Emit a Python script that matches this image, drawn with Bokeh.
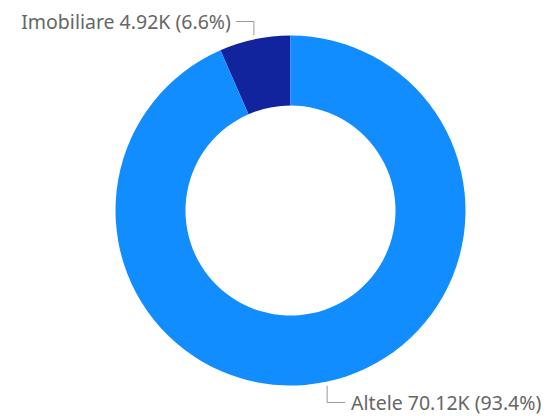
import math
from bokeh.plotting import figure
from bokeh.models import Range1d, ColumnDataSource
from bokeh.core.properties import value
from bokeh.embed import file_html
from bokeh.resources import INLINE

categories = ["Imobiliare", "Altele"]
values_k = [4.92, 70.12]
colors = ["#12239E", "#118DFF"]

W, H = 548, 416
# data x = screen x, data y = 416 - screen y
p = figure(width=W, height=H, output_backend="svg", toolbar_location=None,
           x_range=Range1d(0, W), y_range=Range1d(0, H),
           min_border=0, outline_line_color=None)
p.axis.visible = False
p.grid.visible = False

cx, cy = 290, 416 - 210
r_out, r_in = 175, 105
total = sum(values_k)
starts, ends, mids = [], [], []
a = math.pi / 2
for v in values_k:
    span = 2 * math.pi * v / total
    starts.append(a)
    ends.append(a + span)
    mids.append(a + span / 2)
    a += span

src = ColumnDataSource(dict(start=starts, end=ends, color=colors))
p.annular_wedge(x=cx, y=cy, inner_radius=r_in, outer_radius=r_out,
                start_angle="start", end_angle="end", direction="anticlock",
                fill_color="color", line_color=None, source=src)

label_color = "#666666"
font = value("Noto Sans")
fsize = "19.5px"
for i, (cat, v) in enumerate(zip(categories, values_k)):
    pct = 100 * v / total
    txt = f"{cat} {v:.2f}K ({pct:.1f}%)"
    m = mids[i]
    x0 = cx + (r_out + 4) * math.cos(m)
    y0 = cy + (r_out + 4) * math.sin(m)
    if math.sin(m) > 0:
        y1 = 416 - 21
    else:
        y1 = 416 - 402
    if math.cos(m) < 0:
        x2 = x0 - 18
        p.line([x2, x0, x0], [y1, y1, y0], line_color="#999999", line_width=1)
        p.text(x=[x2 - 5], y=[y1], text=[txt], text_align="right",
               text_baseline="middle", text_color=label_color,
               text_font=font, text_font_size=fsize)
    else:
        x2 = x0 + 18
        p.line([x0, x0, x2], [y0, y1, y1], line_color="#999999", line_width=1)
        p.text(x=[x2 + 6], y=[y1], text=[txt], text_align="left",
               text_baseline="middle", text_color=label_color,
               text_font=font, text_font_size=fsize)

open("out.html", "w").write(file_html(p, INLINE))
